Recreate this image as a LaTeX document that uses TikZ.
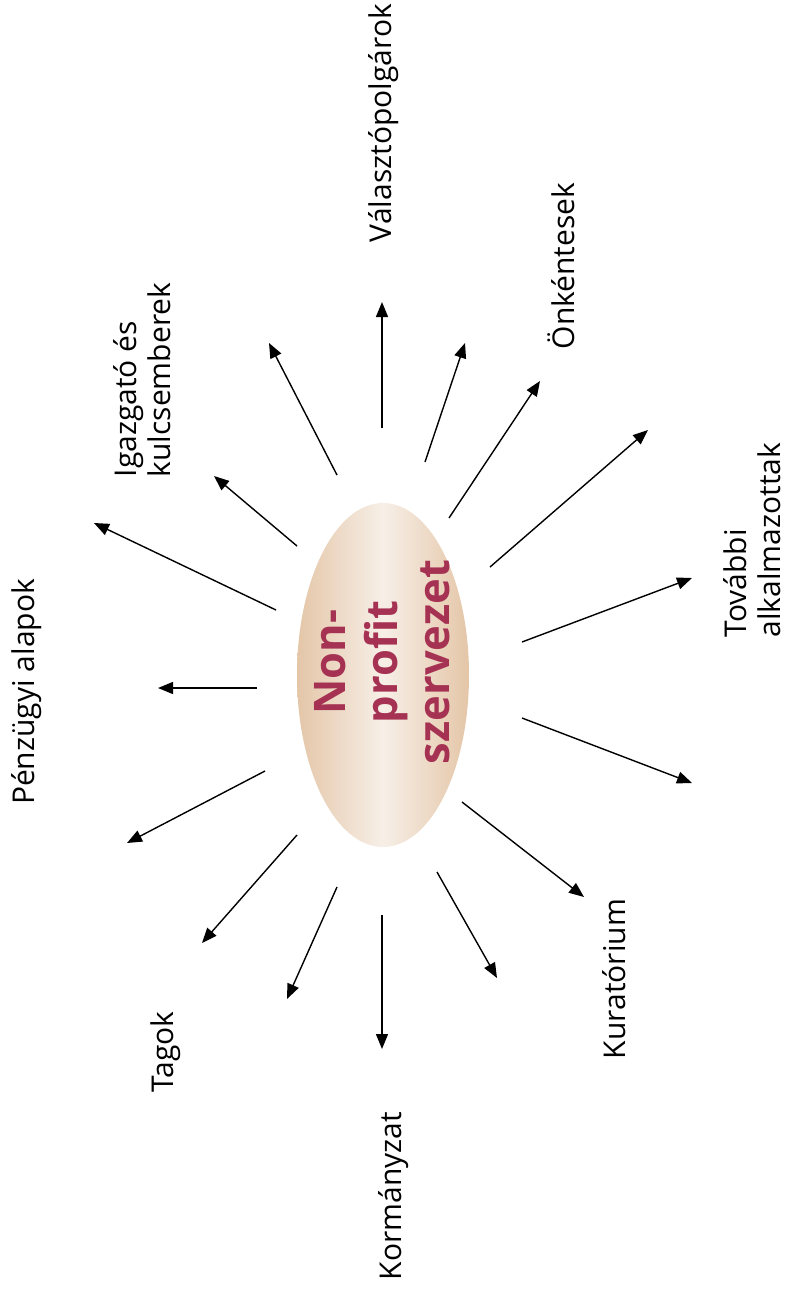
\documentclass[tikz,border=0pt]{standalone}
\usepackage{fontspec}
\setmainfont{Open Sans}
\usetikzlibrary{arrows.meta,shapes.geometric}
\definecolor{edgetan}{RGB}{228,198,168}
\definecolor{midtan}{RGB}{247,239,231}
\definecolor{textred}{RGB}{165,50,82}
\tikzset{
  arr/.style={line width=1.4pt,-{Triangle[length=15pt,width=12pt]}},
  lbl/.style={rotate=90,font=\fontsize{30}{34}\selectfont,align=left,inner sep=0pt},
  core/.style={ellipse,minimum width=172pt,minimum height=344pt,inner sep=0pt,
    left color=edgetan,right color=edgetan,middle color=midtan},
  coretext/.style={rotate=90,font=\fontsize{43.5}{52}\selectfont\bfseries,text=textred,align=center,inner sep=0pt}
}
\begin{document}
\begin{tikzpicture}[x=1pt,y=-1pt]
\useasboundingbox (0,0) rectangle (785,1294);
\node[core] (org) at (383,675) {};
\node[coretext] (orgtext) at (382,662) {Non-\\profit\\szervezet};
% labels
\node[lbl] (valaszto) at (384,123) {Választópolgárok};
\node[lbl] (onkent) at (561,266) {Önkéntesek};
\node[lbl] (igazgato) at (142,380) {Igazgató és\\kulcsemberek};
\node[lbl] (penz) at (27,692) {Pénzügyi alapok};
\node[lbl] (tagok) at (166,1052) {Tagok};
\node[lbl] (korm) at (394,1196) {Kormányzat};
\node[lbl] (kurat) at (614,979) {Kuratórium};
\node[lbl] (tovabbi) at (752,540) {További\\alkalmazottak};
% arrow ends
\coordinate (t1) at (276,610);  \coordinate (h1) at (94,523);
\coordinate (t2) at (297,546);  \coordinate (h2) at (214,476);
\coordinate (t3) at (337,475);  \coordinate (h3) at (269,343);
\coordinate (t4) at (382,428);  \coordinate (h4) at (382,302);
\coordinate (t5) at (425,462);  \coordinate (h5) at (465,343);
\coordinate (t6) at (449,518);  \coordinate (h6) at (540,381);
\coordinate (t7) at (490,567);  \coordinate (h7) at (648,430);
\coordinate (t8) at (522,642);  \coordinate (h8) at (692,578);
\coordinate (t9) at (522,718);  \coordinate (h9) at (692,783);
\coordinate (t10) at (462,802); \coordinate (h10) at (584,897);
\coordinate (t11) at (437,872); \coordinate (h11) at (497,978);
\coordinate (t12) at (382,915); \coordinate (h12) at (382,1049);
\coordinate (t13) at (337,887); \coordinate (h13) at (287,999);
\coordinate (t14) at (297,835); \coordinate (h14) at (202,943);
\coordinate (t15) at (265,771); \coordinate (h15) at (127,843);
\coordinate (t16) at (257,688); \coordinate (h16) at (158,688);
\foreach \i in {1,...,16} { \draw[arr] (t\i) -- (h\i); }
\end{tikzpicture}
\end{document}
